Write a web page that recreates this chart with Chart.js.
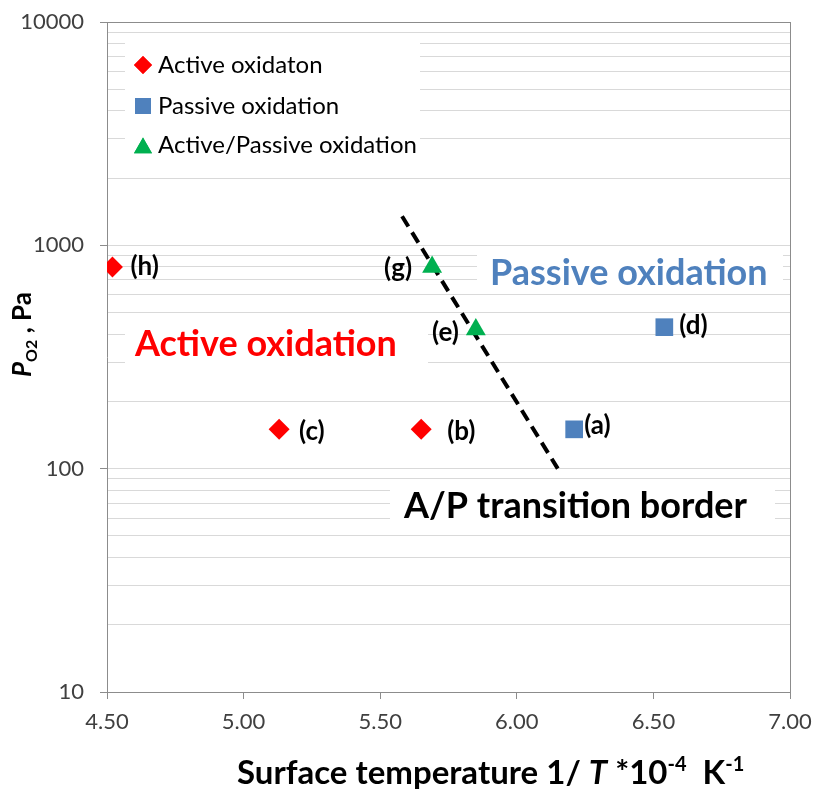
<!DOCTYPE html>
<html>
<head>
<meta charset="utf-8">
<script src="https://cdn.jsdelivr.net/npm/chart.js@4.4.1/dist/chart.umd.min.js"></script>
<style>
  html, body { margin: 0; padding: 0; background: #fff; }
</style>
</head>
<body>
<canvas id="chart" width="817" height="790"></canvas>
<script>
// data
const activeX = [4.52, 5.13, 5.65];
const activeY = [800, 150, 150];
const activeTags = ["(h)", "(c)", "(b)"];

const passiveX = [6.21, 6.54];
const passiveY = [150, 430];
const passiveTags = ["(a)", "(d)"];

const mixedX = [5.69, 5.85];
const mixedY = [800, 420];
const mixedTags = ["(g)", "(e)"];

const borderX = [5.58, 6.15];
const borderY = [1350, 100];

const xTicks = [4.5, 5.0, 5.5, 6.0, 6.5, 7.0];
const yMajor = [10, 100, 1000, 10000];

const FONT = "Lato";
const GRID = "#d9d9d9";
const AXIS = "#8c8c8c";

function pts(xs, ys) {
  return xs.map((x, i) => ({ x: x, y: ys[i] }));
}

// minor ticks 2..9 in every decade
const yAll = [];
for (let i = 0; i < yMajor.length - 1; i++) {
  for (let k = 1; k < 10; k++) yAll.push(yMajor[i] * k);
}
yAll.push(yMajor[yMajor.length - 1]);

// where each point label sits relative to its marker
const tagOffsets = {
  0: [[18, 0, "left"], [20, 2, "left"], [26, 2, "left"]],
  1: [[10, -4, "left"], [15, -2, "left"]],
  2: [[-20, 2, "right"], [-17, 3, "right"]],
};
const tagSets = [activeTags, passiveTags, mixedTags];

const overlay = {
  id: "overlay",
  beforeDatasetsDraw(chart) {
    const ctx = chart.ctx;
    ctx.save();
    ctx.fillStyle = "#fff";
    ctx.fillRect(125, 37, 295, 133);   // legend
    ctx.fillRect(477, 250, 306, 40);   // passive text
    ctx.fillRect(125, 318, 303, 54);   // active text
    ctx.fillRect(390, 484, 385, 46);   // border text

    // legend
    const rows = [65, 106, 148];
    const radii = [9, 11.3, 10.4];
    chart.data.datasets.slice(0, 3).forEach((ds, i) => {
      ctx.fillStyle = ds.backgroundColor;
      Chart.helpers.drawPoint(ctx, { pointStyle: ds.pointStyle, radius: radii[i], borderWidth: 0 }, 143, rows[i]);
      ctx.fill();
      ctx.fillStyle = "#000";
      ctx.font = "24px " + FONT;
      ctx.textBaseline = "middle";
      ctx.textAlign = "left";
      ctx.fillText(ds.label, 158, [65, 106, 145][i]);
    });

    ctx.font = "bold 36px " + FONT;
    ctx.textBaseline = "middle";
    ctx.fillStyle = "#4f81bd";
    ctx.fillText("Passive oxidation", 490, 273);
    ctx.fillStyle = "#ff0000";
    ctx.fillText("Active oxidation", 135, 344);
    ctx.fillStyle = "#000";
    ctx.fillText("A/P transition border", 404, 506);
    ctx.restore();
  },
  afterDatasetsDraw(chart) {
    const ctx = chart.ctx;
    ctx.save();
    ctx.font = "bold 26px " + FONT;
    ctx.fillStyle = "#000";
    ctx.textBaseline = "middle";
    tagSets.forEach((tags, di) => {
      const meta = chart.getDatasetMeta(di);
      tags.forEach((t, i) => {
        const p = meta.data[i];
        const o = tagOffsets[di][i];
        ctx.textAlign = o[2];
        ctx.fillText(t, p.x + o[0], p.y + o[1]);
      });
    });
    ctx.restore();
  },
  afterDraw(chart) {
    const ctx = chart.ctx;
    ctx.save();
    ctx.fillStyle = "#000";
    ctx.textBaseline = "alphabetic";
    ctx.textAlign = "left";

    // x title
    const parts = [
      ["bold 33px " + FONT, "Surface temperature 1/ ", 0],
      ["italic bold 33px " + FONT, "T", 0],
      ["bold 33px " + FONT, " *10", 0],
      ["bold 20px " + FONT, "-4", -13],
      ["bold 33px " + FONT, "  K", 0],
      ["bold 20px " + FONT, "-1", -13],
    ];
    let x = 237;
    parts.forEach(p => {
      ctx.font = p[0];
      ctx.fillText(p[1], x, 784 + p[2]);
      x += ctx.measureText(p[1]).width;
    });

    // y title
    ctx.translate(31, 377);
    ctx.rotate(-Math.PI / 2);
    const yparts = [
      ["italic bold 26px " + FONT, "P", 0],
      ["bold 16px " + FONT, "O2", 6],
      ["bold 26px " + FONT, " , Pa", 0],
    ];
    let yx = 0;
    yparts.forEach(p => {
      ctx.font = p[0];
      ctx.fillText(p[1], yx, p[2]);
      yx += ctx.measureText(p[1]).width;
    });
    ctx.restore();
  },
};

new Chart(document.getElementById("chart"), {
  type: "scatter",
  data: {
    datasets: [
      {
        label: "Active oxidaton",
        data: pts(activeX, activeY),
        pointStyle: "rectRot",
        pointRadius: 10.5,
        backgroundColor: "#ff0000",
        borderWidth: 0,
      },
      {
        label: "Passive oxidation",
        data: pts(passiveX, passiveY),
        pointStyle: "rect",
        pointRadius: 12.5,
        backgroundColor: "#4f81bd",
        borderWidth: 0,
      },
      {
        label: "Active/Passive oxidation",
        data: pts(mixedX, mixedY),
        pointStyle: "triangle",
        pointRadius: 11.5,
        backgroundColor: "#00b050",
        borderWidth: 0,
      },
      {
        label: "A/P transition border",
        data: pts(borderX, borderY),
        showLine: true,
        borderColor: "#000",
        borderWidth: 4,
        borderDash: [12, 7],
        pointRadius: 0,
      },
    ],
  },
  options: {
    responsive: false,
    animation: false,
    layout: { padding: { top: 22, right: 27, left: 0, bottom: 0 } },
    plugins: { legend: { display: false }, tooltip: { enabled: false } },
    scales: {
      x: {
        type: "linear",
        min: 4.5,
        max: 7,
        afterBuildTicks: s => { s.ticks = xTicks.map(v => ({ value: v })); },
        afterFit: s => {
          s.height = 98;
          s.paddingLeft = 0;
          s.paddingRight = 0;
        },
        ticks: {
          callback: v => Number(v).toFixed(2),
          font: { family: FONT, size: 22 },
          color: "#404040",
          padding: 10,
          maxRotation: 0,
          autoSkip: false,
        },
        grid: {
          color: c => (c.tick && c.tick.value === 7 ? AXIS : "rgba(0,0,0,0)"),
          tickColor: AXIS,
          tickLength: 7,
        },
        border: { color: AXIS, width: 1 },
      },
      y: {
        type: "logarithmic",
        min: 10,
        max: 10000,
        afterBuildTicks: s => { s.ticks = yAll.map(v => ({ value: v, major: yMajor.includes(v) })); },
        afterFit: s => {
          s.width = 107;
          s.paddingTop = 0;
          s.paddingBottom = 0;
        },
        ticks: {
          callback: v => (yMajor.includes(v) ? String(v) : ""),
          font: { family: FONT, size: 22 },
          color: "#404040",
          padding: 16,
          autoSkip: false,
        },
        grid: {
          color: c => (c.tick && c.tick.value === 10000 ? AXIS : GRID),
          tickColor: c => (c.tick && yMajor.includes(c.tick.value) ? AXIS : "rgba(0,0,0,0)"),
          tickLength: 7,
        },
        border: { color: AXIS, width: 1 },
      },
    },
  },
  plugins: [overlay],
});
</script>
</body>
</html>
